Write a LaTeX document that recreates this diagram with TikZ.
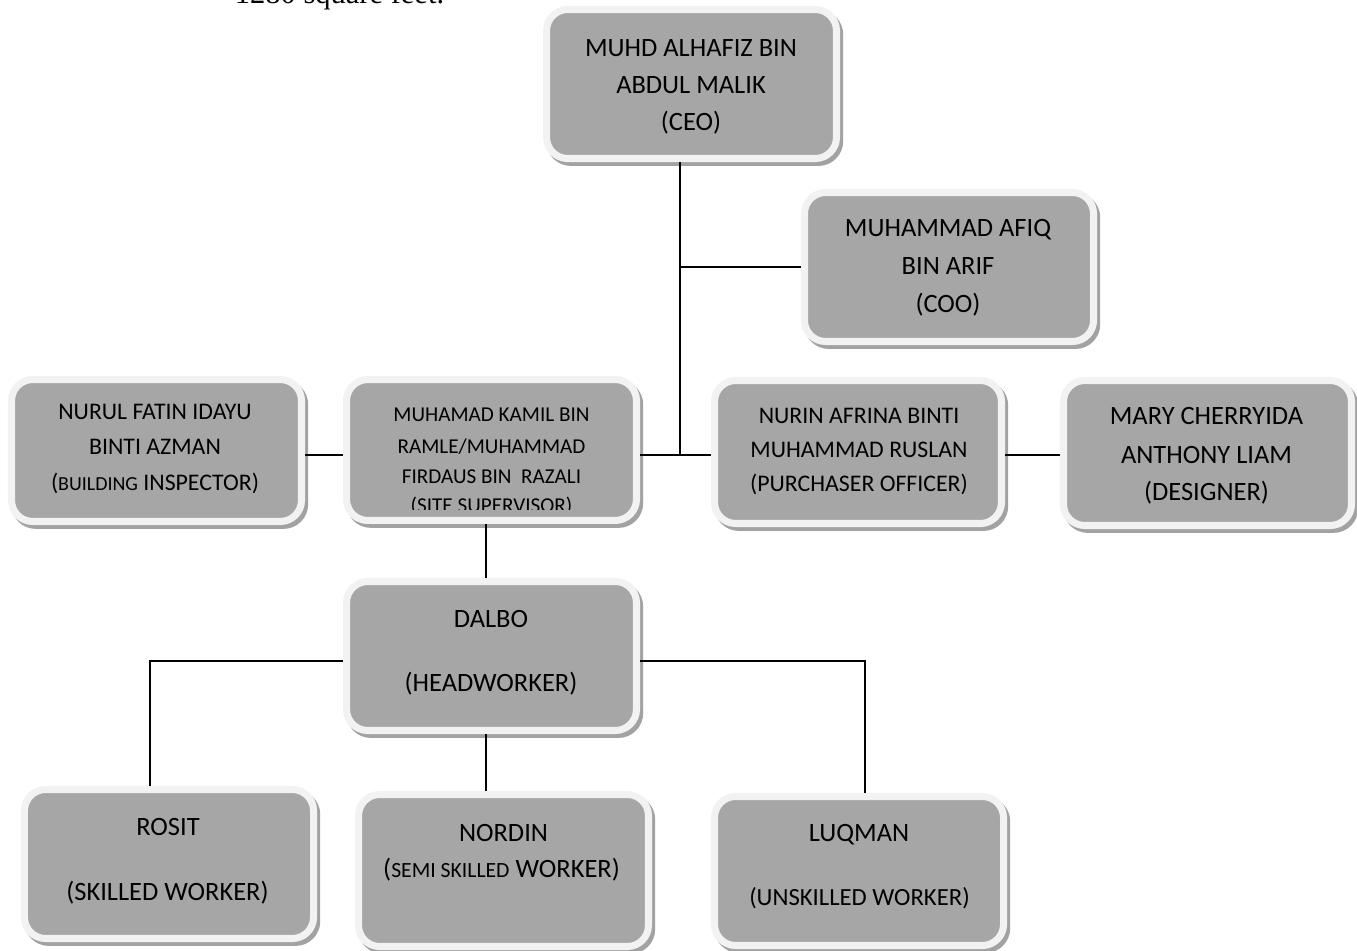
\documentclass[tikz,border=0pt]{standalone}
\usepackage{fontspec}
\setmainfont{Carlito}
\newfontfamily\serifface{Liberation Serif}
\usetikzlibrary{shadows}
\definecolor{boxgray}{HTML}{A6A6A6}
\definecolor{rimwhite}{HTML}{F2F2F2}
\definecolor{shadegray}{HTML}{A2A2A2}
\tikzset{
  orgbox/.style={rectangle, rounded corners=12pt, fill=boxgray, draw=rimwhite,
    line width=4pt, inner sep=0pt,
    drop shadow={shadow xshift=1.8pt, shadow yshift=-2.2pt, fill=shadegray,
      draw=shadegray, line width=4pt, opacity=1}},
  ln/.style={anchor=base, inner sep=0pt, text=black},
  big/.style={font=\fontsize{15}{18}\selectfont},
  mid/.style={font=\fontsize{13.5}{16}\selectfont},
  small/.style={font=\fontsize{12}{14}\selectfont},
  link/.style={draw=black, line width=1pt},
}
\begin{document}
\begin{tikzpicture}[x=0.567pt, y=-0.567pt]
\useasboundingbox (0,0) rectangle (1357,951);

% partly cut line of text at top
\node[ln, font=\serifface\fontsize{17.3}{20}\selectfont] (topline) at (339.5,3.5) {1280 square feet.};

% boxes
\node[orgbox, minimum width=164.4pt, minimum height=84.5pt] (ceo) at (691.5,84) {};
\node[orgbox, minimum width=163.9pt, minimum height=84.5pt] (coo) at (949,267) {};
\node[orgbox, minimum width=164.4pt, minimum height=80.5pt] (insp) at (156.5,450.5) {};
\node[orgbox, minimum width=164.4pt, minimum height=79.9pt] (site) at (491.5,450) {};
\node[orgbox, minimum width=162.7pt, minimum height=81.1pt] (purch) at (858,452) {};
\node[orgbox, minimum width=163.3pt, minimum height=82.2pt] (design) at (1207.5,453) {};
\node[orgbox, minimum width=164.4pt, minimum height=84.5pt] (dalbo) at (491.5,656) {};
\node[orgbox, minimum width=163.9pt, minimum height=84.5pt] (rosit) at (169,864) {};
\node[orgbox, minimum width=164.4pt, minimum height=86.2pt] (nordin) at (503.5,870.5) {};
\node[orgbox, minimum width=163.9pt, minimum height=84.5pt] (luqman) at (859,871) {};

% connectors
\coordinate (spine) at (680,0);
\coordinate (rowA) at (0,455);
\coordinate (colB) at (486,0);
\coordinate (rowB) at (0,661);
\coordinate (colR) at (150,0);
\coordinate (colL) at (865,0);
\draw[link] (ceo.south -| spine) -- (spine |- rowA);
\draw[link] (spine |- coo.west) -- (coo.west);
\draw[link] (site.east |- rowA) -- (purch.west |- rowA);
\draw[link] (insp.east |- rowA) -- (site.west |- rowA);
\draw[link] (purch.east |- rowA) -- (design.west |- rowA);
\draw[link] (site.south -| colB) -- (dalbo.north -| colB);
\draw[link] (dalbo.south -| colB) -- (nordin.north -| colB);
\draw[link] (dalbo.west |- rowB) -| (rosit.north -| colR);
\draw[link] (dalbo.east |- rowB) -| (luqman.north -| colL);

% texts
\node[ln, big] (ceo1) at (691,57) {MUHD ALHAFIZ BIN};
\node[ln, big] (ceo2) at (691,94) {ABDUL MALIK};
\node[ln, big] (ceo3) at (691,131) {(CEO)};

\node[ln, big] (coo1) at (948,237) {MUHAMMAD AFIQ};
\node[ln, big] (coo2) at (948,275) {BIN ARIF};
\node[ln, big] (coo3) at (948,313) {(COO)};

\node[ln, mid] (insp1) at (155,420) {NURUL FATIN IDAYU};
\node[ln, mid] (insp2) at (155,455) {BINTI AZMAN};
\node[ln, mid] (insp3) at (155,490.7) {({\fontsize{11.3}{13}\selectfont BUILDING} INSPECTOR)};

\begin{scope}
\clip (340,380) rectangle (645,510);
\node[ln, small] (site1) at (491.5,421.7) {MUHAMAD KAMIL BIN};
\node[ln, small] (site2) at (491.5,453.3) {RAMLE/MUHAMMAD};
\node[ln, small] (site3) at (491.5,483.3) {FIRDAUS BIN\ \ RAZALI};
\node[ln, small] (site4) at (491.5,513) {(SITE SUPERVISOR)};
\end{scope}

\node[ln, mid] (purch1) at (859,423.3) {NURIN AFRINA BINTI};
\node[ln, mid] (purch2) at (859,457.3) {MUHAMMAD RUSLAN};
\node[ln, mid] (purch3) at (859,491.7) {(PURCHASER OFFICER)};

\node[ln, big] (des1) at (1206.5,425) {MARY CHERRYIDA};
\node[ln, big] (des2) at (1206.5,463.3) {ANTHONY LIAM};
\node[ln, big] (des3) at (1206.5,500.7) {(DESIGNER)};

\node[ln, big] (dal1) at (491,627.3) {DALBO};
\node[ln, big] (dal2) at (491,691.7) {(HEADWORKER)};

\node[ln, big] (ros1) at (168,836) {ROSIT};
\node[ln, big] (ros2) at (167.5,900.7) {(SKILLED WORKER)};

\node[ln, big] (nor1) at (503.5,841.7) {NORDIN};
\node[ln, big] (nor2) at (501.5,877.7) {({\fontsize{12.3}{14}\selectfont SEMI SKILLED} WORKER)};

\node[ln, big] (luq1) at (859,841.7) {LUQMAN};
\node[ln, font=\fontsize{14}{16}\selectfont] (luq2) at (859.5,905) {(UNSKILLED WORKER)};
\end{tikzpicture}
\end{document}
